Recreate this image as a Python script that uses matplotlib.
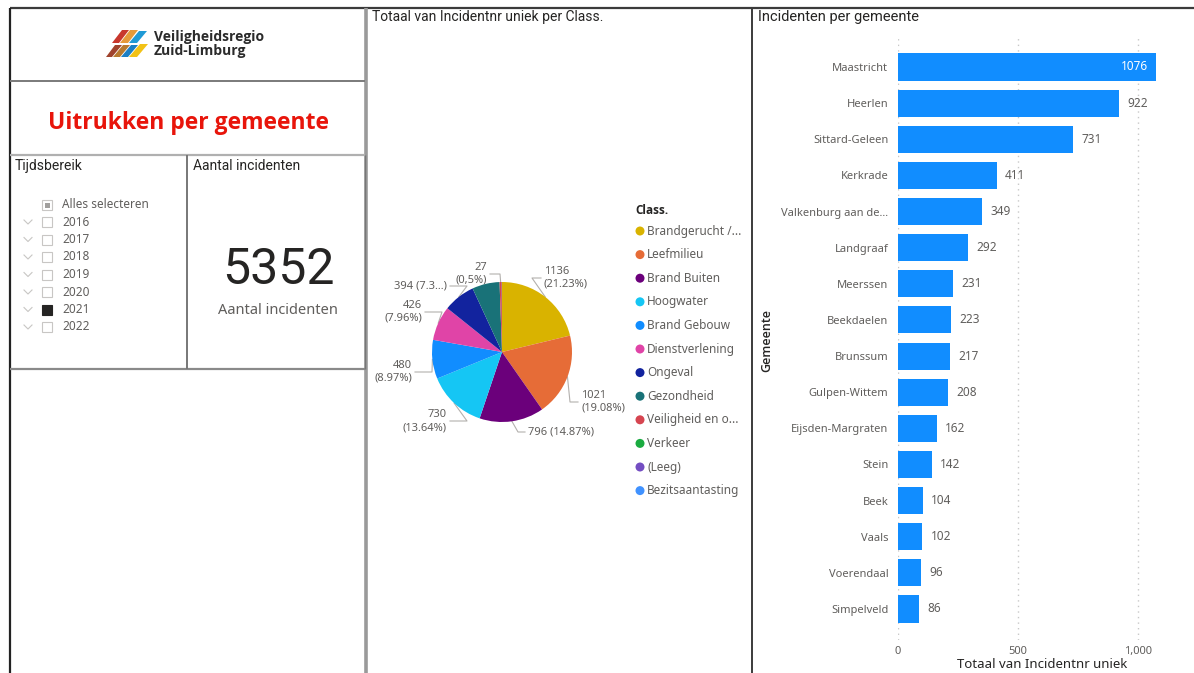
import matplotlib
matplotlib.use("Agg")
import matplotlib.pyplot as plt
from matplotlib.patches import Rectangle, Polygon
import numpy as np

# ---------------- data ----------------
classes = ["Brandgerucht /...", "Leefmilieu", "Brand Buiten", "Hoogwater",
           "Brand Gebouw", "Dienstverlening", "Ongeval", "Gezondheid",
           "Veiligheid en o...", "Verkeer", "(Leeg)", "Bezitsaantasting"]
class_counts = [1136, 1021, 796, 730, 480, 426, 394, 339, 27, 1, 1, 1]
class_labels = ["1136\n(21.23%)", "1021\n(19.08%)", "796 (14.87%)", "730\n(13.64%)",
                "480\n(8.97%)", "426\n(7.96%)", "394 (7.3...)", "", "27\n(0,5%)", "", "", ""]
class_colors = ["#D9B300", "#E66C37", "#6B007B", "#15C6F4", "#118DFF", "#E044A7",
                "#12239E", "#197278", "#D64550", "#1AAB40", "#744EC2", "#4092FF"]

gemeenten = ["Maastricht", "Heerlen", "Sittard-Geleen", "Kerkrade", "Valkenburg aan de...",
             "Landgraaf", "Meerssen", "Beekdaelen", "Brunssum", "Gulpen-Wittem",
             "Eijsden-Margraten", "Stein", "Beek", "Vaals", "Voerendaal", "Simpelveld"]
incidenten = [1076, 922, 731, 411, 349, 292, 231, 223, 217, 208, 162, 142, 104, 102, 96, 86]
x_ticks = [0, 500, 1000]
x_ticklabels = ["0", "500", "1,000"]

years = ["2016", "2017", "2018", "2019", "2020", "2021", "2022"]
selected_year = "2021"
total_incidents = sum(incidenten)

# ---------------- figure ----------------
W, H = 1194, 673
fig = plt.figure(figsize=(W / 100, H / 100), dpi=100)
fig.patch.set_facecolor("white")

BODY = ["Noto Sans", "DejaVu Sans"]
BOLD = ["Open Sans", "DejaVu Sans"]
HEAD = ["Roboto", "DejaVu Sans"]
GREY = "#605E5C"
DARK = "#252423"

bg = fig.add_axes([0, 0, 1, 1])
bg.set_xlim(0, W)
bg.set_ylim(H, 0)
bg.axis("off")

def line(xs, ys, c="#333333", lw=1.5):
    bg.plot(xs, ys, color=c, lw=lw, solid_capstyle="butt")

# frame lines
line([10, W], [8, 8], "#3b3b3b", 1.6)
line([10, 10], [8, H], "#222222", 1.6)
line([366, 366], [8, H], "#9a9a9a", 2.6)
line([752, 752], [8, H], "#3b3b3b", 1.4)
line([10, 365], [81, 81], "#7a7a7a", 1.4)
line([10, 365], [155, 155], "#b0b0b0", 1.6)
line([10, 365], [369, 369], "#8a8a8a", 1.6)
line([187, 187], [155, 369], "#777777", 1.4)
line([365, 365], [155, 369], "#777777", 1.0)

# logo
logo_polys = [
    ([(112, 43), (119, 43), (129, 30), (122, 30)], "#C8372D"),
    ([(120, 43), (128, 43), (138, 30), (130, 30)], "#E59A3A"),
    ([(129, 43), (137, 43), (147, 31), (139, 31)], "#1F9AD6"),
    ([(106, 57), (112, 57), (122, 45), (115, 45)], "#A0432D"),
    ([(113, 57), (120, 57), (130, 45), (123, 45)], "#B87A2E"),
    ([(121, 57), (128, 57), (138, 45), (131, 45)], "#1B7FC4"),
    ([(129, 57), (137, 57), (148, 44), (140, 44)], "#F2C216"),
]
for pts, col in logo_polys:
    bg.add_patch(Polygon(pts, closed=True, facecolor=col, edgecolor="none"))
bg.text(154, 37, "Veiligheidsregio", fontsize=10, fontweight="bold", color="#2b2b2b",
        va="center", ha="left", family=BOLD)
bg.text(154, 51, "Zuid-Limburg", fontsize=10, fontweight="bold", color="#2b2b2b",
        va="center", ha="left", family=BOLD)

# report title
bg.text(188, 123, "Uitrukken per gemeente", fontsize=16.5, fontweight="bold",
        color="#E8150B", ha="center", va="center", family=BOLD)

# slicer
bg.text(15, 166, "Tijdsbereik", fontsize=10, color=DARK, ha="left", va="center", family=HEAD)
bg.add_patch(Rectangle((42, 200), 10, 10, facecolor="white", edgecolor="#c8c6c4", lw=0.8))
bg.add_patch(Rectangle((44.5, 202.5), 5, 5, facecolor="#a19f9d", edgecolor="none"))
bg.text(62, 205, "Alles selecteren", fontsize=8.5, color=GREY, ha="left", va="center", family=BODY)
for i, yr in enumerate(years):
    yy = 222 + i * 17.5
    bg.plot([24, 28, 32], [yy - 2, yy + 2, yy - 2], color="#c8c6c4", lw=0.8)
    if yr == selected_year:
        bg.add_patch(Rectangle((42, yy - 5), 10, 10, facecolor=DARK, edgecolor=DARK, lw=0.8))
    else:
        bg.add_patch(Rectangle((42, yy - 5), 10, 10, facecolor="white", edgecolor="#c8c6c4", lw=0.8))
    bg.text(62, yy, yr, fontsize=8.5, color=GREY, ha="left", va="center", family=BODY)

# card
bg.text(193, 166, "Aantal incidenten", fontsize=10, color=DARK, ha="left", va="center", family=HEAD)
bg.text(278, 270, f"{total_incidents}", fontsize=36, color=DARK, ha="center", va="center",
        family=HEAD)
bg.text(278, 310, "Aantal incidenten", fontsize=10.5, color=GREY, ha="center", va="center",
        family=BODY)

# ---------------- pie ----------------
bg.text(372, 17, "Totaal van Incidentnr uniek per Class.", fontsize=10, color=DARK,
        ha="left", va="center", family=HEAD)
cx, cy, R = 502, 352, 70
half = 150
pax = fig.add_axes([(cx - half) / W, 1 - (cy + half) / H, 2 * half / W, 2 * half / H])
pax.pie(class_counts, colors=class_colors, startangle=90, counterclock=False, radius=1,
        wedgeprops=dict(linewidth=0))
pax.set_xlim(-half / R, half / R)
pax.set_ylim(-half / R, half / R)
pax.axis("off")

# label placement (pixel anchor, alignment, elbow length)
label_place = {0: (544, 278, "left", 12), 1: (581, 402, "left", 11), 2: (528, 432, "left", 10),
               3: (447, 421, "right", 20), 4: (412, 372, "right", 20), 5: (422, 312, "right", 20),
               6: (447, 286, "right", 20), 8: (487, 274, "right", 13)}
cum = np.cumsum([0] + class_counts[:-1])
tot = sum(class_counts)
for i, (tx, ty, ha, el) in label_place.items():
    mid = np.deg2rad(90 - 360 * (cum[i] + class_counts[i] / 2) / tot)
    p0 = (cx + R * np.cos(mid), cy - R * np.sin(mid))
    sgn = 1 if ha == "left" else -1
    ex = tx - sgn * el
    bg.plot([p0[0], ex, tx - sgn * 3], [p0[1], ty, ty], color="#b3b0ad", lw=0.8)
    bg.text(tx, ty, class_labels[i], fontsize=8, color=GREY, ha=ha, va="center",
            multialignment=ha, family=BODY, linespacing=1.25)

# legend
bg.text(635, 211, "Class.", fontsize=8.5, fontweight="bold", color=DARK, ha="left",
        va="center", family=BOLD)
for i, (name, col) in enumerate(zip(classes, class_colors)):
    yy = 231 + i * 23.6
    bg.scatter([640], [yy], s=42, color=col, edgecolors="none")
    bg.text(647, yy, name, fontsize=8.5, color=GREY, ha="left", va="center", family=BODY)

# ---------------- bar chart ----------------
bg.text(758, 17, "Incidenten per gemeente", fontsize=10.5, color=DARK, ha="left", va="center",
        family=HEAD)
ax_l, ax_r, ax_t, ax_b = 898, 1156, 38, 640
bax = fig.add_axes([ax_l / W, 1 - ax_b / H, (ax_r - ax_l) / W, (ax_b - ax_t) / H])
n = len(gemeenten)
ypos = np.arange(n)
bax.barh(ypos, incidenten, height=0.75, color="#118DFF")
bax.set_xlim(0, max(incidenten))
step = (609 - 67) / (n - 1)
bax.set_ylim(n - 1 + (ax_b - 609) / step, -(67 - ax_t) / step)
bax.set_yticks(ypos)
bax.set_yticklabels(gemeenten, fontsize=8, color=GREY, family=BODY)
bax.set_xticks(x_ticks)
bax.set_xticklabels(x_ticklabels, fontsize=8, color=GREY, family=BODY)
bax.tick_params(axis="y", length=0, pad=7)
bax.tick_params(axis="x", length=0, pad=4)
for s in bax.spines.values():
    s.set_visible(False)
bax.grid(axis="x", linestyle=(0, (1, 3)), color="#c8c8c8", lw=1.0)
bax.set_axisbelow(True)
xmax = max(incidenten)
for yv, v in zip(ypos, incidenten):
    if v > 0.95 * xmax:
        bax.annotate(f"{v}", (v, yv), xytext=(-6, 0), textcoords="offset points",
                     ha="right", va="center", fontsize=8.5, color="white", family=BODY)
    else:
        bax.annotate(f"{v}", (v, yv), xytext=(6, 0), textcoords="offset points",
                     ha="left", va="center", fontsize=8.5, color=GREY, family=BODY)

bg.text(767, 340, "Gemeente", fontsize=9, fontweight="semibold", color=DARK, rotation=90,
        ha="center", va="center", family=BOLD)
bg.text(1042, 665, "Totaal van Incidentnr uniek", fontsize=9.5, color=DARK, ha="center",
        va="center", family=BODY)

fig.savefig("out.png", dpi=100, facecolor="white")
